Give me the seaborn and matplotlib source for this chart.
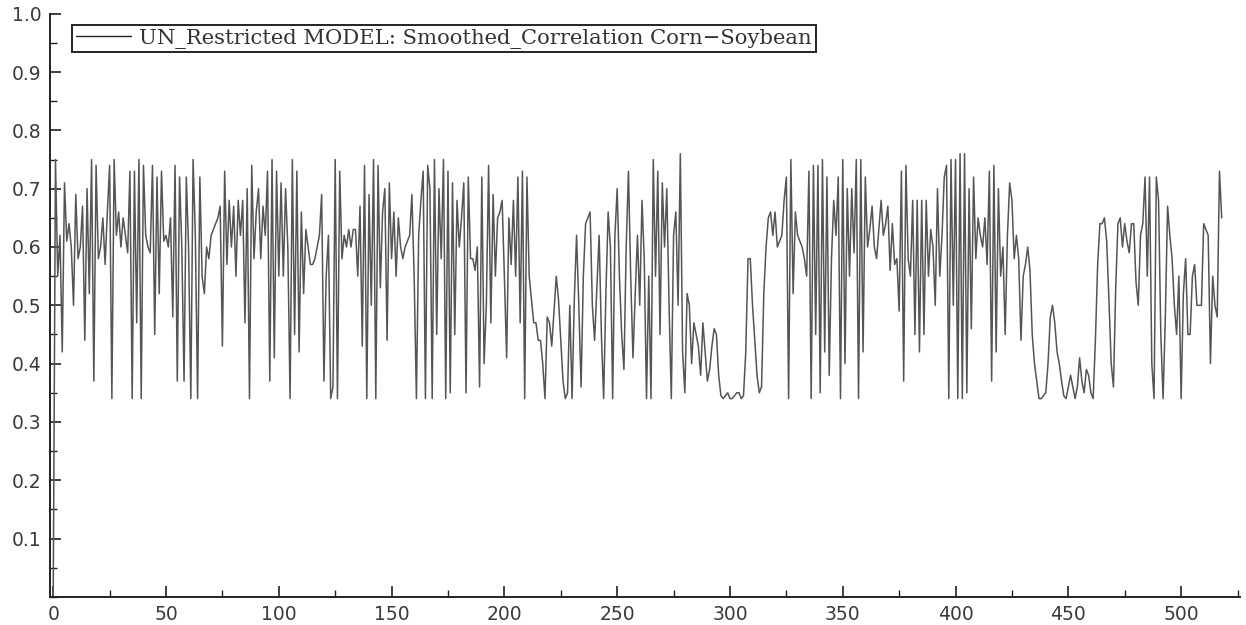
import matplotlib
matplotlib.use("Agg")
import matplotlib.pyplot as plt
from matplotlib.ticker import MultipleLocator
import numpy as np
import pandas as pd
import seaborn as sns

# Smoothed conditional correlation, corn vs soybean (unrestricted model)
corr_values = [
    0.00, 0.75, 0.55, 0.62, 0.42, 0.71, 0.61, 0.64, 0.60, 0.50,
    0.69, 0.58, 0.60, 0.67, 0.44, 0.70, 0.52, 0.75, 0.37, 0.74,
    0.58, 0.60, 0.65, 0.57, 0.66, 0.74, 0.34, 0.75, 0.62, 0.66,
    0.60, 0.65, 0.62, 0.59, 0.73, 0.34, 0.73, 0.47, 0.75, 0.34,
    0.74, 0.62, 0.60, 0.59, 0.74, 0.45, 0.72, 0.52, 0.73, 0.61,
    0.62, 0.60, 0.65, 0.48, 0.74, 0.37, 0.72, 0.60, 0.37, 0.72,
    0.60, 0.34, 0.75, 0.62, 0.34, 0.72, 0.55, 0.52, 0.60, 0.58,
    0.62, 0.63, 0.64, 0.65, 0.67, 0.43, 0.73, 0.57, 0.68, 0.60,
    0.67, 0.55, 0.68, 0.62, 0.68, 0.47, 0.70, 0.34, 0.74, 0.58,
    0.66, 0.70, 0.58, 0.67, 0.62, 0.73, 0.37, 0.75, 0.41, 0.73,
    0.55, 0.71, 0.55, 0.70, 0.60, 0.34, 0.75, 0.45, 0.73, 0.42,
    0.66, 0.52, 0.63, 0.60, 0.57, 0.57, 0.58, 0.60, 0.62, 0.69,
    0.37, 0.55, 0.62, 0.34, 0.36, 0.75, 0.34, 0.73, 0.58, 0.62,
    0.60, 0.63, 0.60, 0.63, 0.63, 0.55, 0.67, 0.43, 0.74, 0.34,
    0.69, 0.50, 0.75, 0.34, 0.74, 0.53, 0.66, 0.70, 0.44, 0.71,
    0.58, 0.66, 0.55, 0.65, 0.60, 0.58, 0.60, 0.61, 0.62, 0.69,
    0.55, 0.34, 0.62, 0.68, 0.73, 0.34, 0.74, 0.70, 0.34, 0.75,
    0.45, 0.70, 0.58, 0.75, 0.34, 0.73, 0.35, 0.71, 0.45, 0.68,
    0.60, 0.65, 0.71, 0.35, 0.72, 0.58, 0.58, 0.56, 0.60, 0.36,
    0.72, 0.40, 0.50, 0.74, 0.47, 0.69, 0.55, 0.65, 0.66, 0.68,
    0.55, 0.41, 0.65, 0.57, 0.68, 0.55, 0.72, 0.47, 0.73, 0.34,
    0.72, 0.55, 0.51, 0.47, 0.47, 0.44, 0.44, 0.40, 0.34, 0.48,
    0.47, 0.43, 0.49, 0.55, 0.51, 0.44, 0.37, 0.34, 0.35, 0.50,
    0.34, 0.51, 0.62, 0.50, 0.36, 0.55, 0.64, 0.65, 0.66, 0.50,
    0.44, 0.53, 0.62, 0.45, 0.34, 0.52, 0.66, 0.60, 0.34, 0.62,
    0.70, 0.55, 0.45, 0.39, 0.60, 0.73, 0.55, 0.41, 0.52, 0.62,
    0.50, 0.68, 0.58, 0.34, 0.55, 0.34, 0.75, 0.55, 0.73, 0.45,
    0.71, 0.60, 0.70, 0.50, 0.34, 0.62, 0.66, 0.50, 0.76, 0.42,
    0.35, 0.52, 0.50, 0.40, 0.47, 0.45, 0.43, 0.38, 0.47, 0.42,
    0.37, 0.39, 0.43, 0.46, 0.45, 0.38, 0.345, 0.34, 0.345, 0.35,
    0.34, 0.34, 0.345, 0.35, 0.35, 0.34, 0.345, 0.42, 0.58, 0.58,
    0.50, 0.44, 0.38, 0.35, 0.36, 0.52, 0.60, 0.65, 0.66, 0.62,
    0.66, 0.60, 0.61, 0.62, 0.68, 0.72, 0.34, 0.75, 0.52, 0.66,
    0.62, 0.61, 0.60, 0.58, 0.55, 0.73, 0.34, 0.74, 0.45, 0.74,
    0.35, 0.75, 0.42, 0.72, 0.38, 0.58, 0.68, 0.62, 0.72, 0.34,
    0.75, 0.40, 0.70, 0.55, 0.70, 0.59, 0.75, 0.34, 0.75, 0.42,
    0.72, 0.60, 0.63, 0.67, 0.60, 0.58, 0.63, 0.68, 0.62, 0.64,
    0.67, 0.56, 0.64, 0.57, 0.58, 0.49, 0.73, 0.37, 0.74, 0.58,
    0.55, 0.68, 0.45, 0.68, 0.42, 0.68, 0.45, 0.68, 0.55, 0.63,
    0.60, 0.50, 0.70, 0.55, 0.62, 0.72, 0.74, 0.34, 0.75, 0.50,
    0.75, 0.34, 0.76, 0.34, 0.76, 0.35, 0.70, 0.46, 0.72, 0.58,
    0.65, 0.62, 0.60, 0.65, 0.57, 0.73, 0.37, 0.74, 0.42, 0.70,
    0.55, 0.60, 0.45, 0.62, 0.71, 0.68, 0.58, 0.62, 0.58, 0.44,
    0.55, 0.57, 0.60, 0.56, 0.45, 0.40, 0.37, 0.34, 0.34, 0.345,
    0.35, 0.40, 0.48, 0.50, 0.47, 0.42, 0.40, 0.37, 0.345, 0.34,
    0.36, 0.38, 0.36, 0.34, 0.36, 0.41, 0.37, 0.35, 0.39, 0.38,
    0.35, 0.34, 0.44, 0.57, 0.64, 0.64, 0.65, 0.61, 0.51, 0.40,
    0.36, 0.53, 0.64, 0.65, 0.60, 0.64, 0.61, 0.59, 0.64, 0.64,
    0.54, 0.50, 0.62, 0.64, 0.72, 0.55, 0.72, 0.40, 0.34, 0.72,
    0.68, 0.45, 0.34, 0.48, 0.67, 0.62, 0.58, 0.50, 0.45, 0.55,
    0.34, 0.52, 0.58, 0.45, 0.45, 0.55, 0.57, 0.50, 0.50, 0.50,
    0.64, 0.63, 0.62, 0.40, 0.55, 0.50, 0.48, 0.73, 0.65,
]
period = list(range(len(corr_values)))
series_label = "UN_Restricted MODEL: Smoothed_Correlation Corn\u2212Soybean"

x_ticks = [0, 50, 100, 150, 200, 250, 300, 350, 400, 450, 500]
y_ticks = [0.1, 0.2, 0.3, 0.4, 0.5, 0.6, 0.7, 0.8, 0.9, 1.0]

df = pd.DataFrame({"period": period, "corr": corr_values})

sns.set_theme(style="ticks")
plt.rcParams["font.family"] = ["DejaVu Sans"]

fig = plt.figure(figsize=(12.46, 6.25), dpi=100)
ax = fig.add_axes([0.040, 0.045, 0.955, 0.933])

sns.lineplot(data=df, x="period", y="corr", ax=ax, color="#555555",
             linewidth=1.1, label=series_label, legend=False)

ax.set_xlim(-1.5, 526)
ax.set_ylim(0.0, 1.0)
ax.set_xticks(x_ticks)
ax.set_yticks(y_ticks)
ax.set_yticklabels([f"{v:.1f}" for v in y_ticks])
ax.xaxis.set_minor_locator(MultipleLocator(25))
ax.yaxis.set_minor_locator(MultipleLocator(0.05))
ax.tick_params(which="major", direction="in", length=8, width=1.2,
               labelsize=13.5, labelcolor="#3a3a3a", color="#222222", pad=6)
ax.tick_params(which="minor", direction="in", length=5, width=1.0,
               color="#222222")
ax.set_xlabel("")
ax.set_ylabel("")

for side in ("top", "right"):
    ax.spines[side].set_visible(False)
for side in ("left", "bottom"):
    ax.spines[side].set_linewidth(1.4)
    ax.spines[side].set_color("#222222")

handles, labels = ax.get_legend_handles_labels()
leg = ax.legend(handles, labels, loc="upper left",
                bbox_to_anchor=(0.0185, 0.981), borderaxespad=0,
                frameon=True, fancybox=False, edgecolor="#222222",
                framealpha=1, handlelength=2.6, handletextpad=0.42,
                borderpad=0.18,
                prop={"family": "DejaVu Serif", "size": 15.2})
leg.get_frame().set_linewidth(1.4)
for text in leg.get_texts():
    text.set_color("#333333")
for line in leg.get_lines():
    line.set_color("#222222")
    line.set_linewidth(1.0)

fig.savefig("out.png", dpi=100)
